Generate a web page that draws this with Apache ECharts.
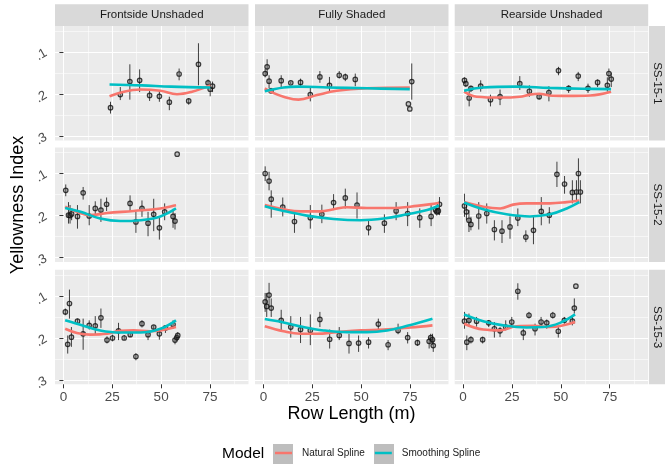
<!DOCTYPE html>
<html>
<head>
<meta charset="utf-8">
<script src="https://cdn.jsdelivr.net/npm/echarts@6/dist/echarts.min.js"></script>
<style>
  html, body { margin: 0; padding: 0; background: #fff; }
  #chart { width: 665px; height: 467px; }
</style>
</head>
<body>
<div id="chart"></div>
<script>
// facet labels
const columns = ['Frontside Unshaded', 'Fully Shaded', 'Rearside Unshaded'];
const rows = ['SS-15-1', 'SS-15-2', 'SS-15-3'];
const xTicks = [0, 25, 50, 75];
const xMinor = [12.5, 37.5, 62.5, 87.5];
const yTicks = [0.1, 0.2, 0.3];
const yMinor = [0.05, 0.15, 0.25];

// points: [row length, yellowness, lower, upper]  (null = no error bar)
const front1Pts = [
  [24.1, 0.232, 0.218, 0.246], [29.1, 0.201, 0.183, 0.214], [34.0, 0.170, 0.129, 0.213],
  [39.0, 0.167, 0.141, 0.195], [44.1, 0.203, 0.190, 0.216], [49.1, 0.205, 0.192, 0.218],
  [54.2, 0.219, 0.206, 0.238], [59.2, 0.152, 0.139, 0.167], [64.1, 0.216, 0.210, 0.225],
  [69.1, 0.129, 0.079, 0.179], [74.0, 0.173, 0.165, 0.180], [75.1, 0.188, 0.180, 0.205],
  [76.3, 0.181, 0.170, 0.195]
];
const front1NS = [[23.6, 0.205], [31, 0.194], [39.3, 0.189], [49.7, 0.192], [58.1, 0.200], [65.8, 0.194], [75.2, 0.179]];
const front1SS = [[23.6, 0.177], [40, 0.179], [55, 0.182], [75.2, 0.184]];

const shade1Pts = [
  [0.9, 0.151, 0.140, 0.160], [1.9, 0.135, 0.117, 0.155], [2.9, 0.169, 0.155, 0.186],
  [3.9, 0.192, 0.185, 0.197], [9.1, 0.168, 0.155, 0.183], [14.0, 0.173, 0.170, 0.176],
  [19.0, 0.172, 0.163, 0.181], [24.0, 0.201, 0.184, 0.217], [28.9, 0.159, 0.145, 0.173],
  [33.8, 0.179, 0.159, 0.194], [38.8, 0.155, 0.145, 0.163], [41.9, 0.159, 0.151, 0.169],
  [47.0, 0.165, 0.151, 0.181], [75.9, 0.170, 0.127, 0.213],
  [74.2, 0.223, null, null], [74.9, 0.235, null, null]
];
const shade1NS = [[0.7, 0.186], [5, 0.197], [10.3, 0.206], [17.9, 0.213], [27.4, 0.202], [37.6, 0.192], [53, 0.186], [74.9, 0.184]];
const shade1SS = [[0.7, 0.193], [10.3, 0.184], [18, 0.182], [33, 0.184], [53, 0.186], [74.9, 0.188]];

const rear1Pts = [
  [0.7, 0.167, 0.160, 0.175], [1.4, 0.175, 0.168, 0.183], [3.1, 0.209, 0.186, 0.229],
  [4.0, 0.186, 0.180, 0.195], [9.0, 0.181, 0.167, 0.194], [14.0, 0.213, 0.201, 0.229],
  [18.9, 0.206, 0.189, 0.226], [29.0, 0.175, 0.157, 0.190], [33.9, 0.193, 0.179, 0.206],
  [38.9, 0.206, 0.198, 0.213], [43.9, 0.196, 0.181, 0.217], [48.8, 0.144, 0.135, 0.155],
  [54.0, 0.186, 0.179, 0.197], [58.9, 0.157, 0.147, 0.169], [63.9, 0.186, 0.175, 0.197],
  [68.8, 0.172, 0.165, 0.183], [73.8, 0.179, 0.160, 0.194], [74.6, 0.151, 0.139, 0.167],
  [75.8, 0.164, 0.149, 0.183]
];
const rear1NS = [[0.5, 0.194], [7, 0.206], [19, 0.208], [29, 0.206], [34, 0.201], [39, 0.199], [44, 0.203], [53, 0.204], [65, 0.203], [75.7, 0.194]];
const rear1SS = [[0.5, 0.192], [10, 0.184], [27, 0.182], [44, 0.185], [61, 0.187], [75.7, 0.188]];

const front2Pts = [
  [1.2, 0.140, 0.126, 0.154], [2.6, 0.199, 0.168, 0.219], [3.4, 0.200, 0.175, 0.219],
  [4.2, 0.196, 0.182, 0.211], [7.2, 0.202, 0.175, 0.231], [10.1, 0.146, 0.132, 0.162],
  [13.2, 0.201, 0.175, 0.223], [16.3, 0.183, 0.166, 0.197], [19.2, 0.187, 0.160, 0.215],
  [22.1, 0.173, 0.157, 0.189], [34.1, 0.171, 0.152, 0.191], [37.1, 0.215, 0.191, 0.241],
  [40.2, 0.183, 0.164, 0.203], [43.3, 0.218, 0.191, 0.249], [46.2, 0.197, 0.160, 0.237],
  [49.1, 0.229, 0.203, 0.257], [51.8, 0.191, 0.171, 0.211], [56.1, 0.202, 0.184, 0.229],
  [57.1, 0.213, 0.194, 0.233], [58.2, 0.054, null, null]
];
const front2NS = [[0.9, 0.179], [6.9, 0.191], [13.7, 0.199], [22.3, 0.194], [35.9, 0.189], [49.6, 0.183], [57.6, 0.175]];
const front2SS = [[0.9, 0.182], [8.8, 0.191], [18.8, 0.207], [29.1, 0.213], [39.4, 0.211], [49.6, 0.202], [57.6, 0.183]];

const shade2Pts = [
  [0.9, 0.100, 0.083, 0.118], [2.9, 0.118, 0.096, 0.140], [4.0, 0.161, 0.140, 0.205],
  [9.9, 0.180, 0.157, 0.202], [15.9, 0.214, 0.189, 0.241], [24.0, 0.205, 0.175, 0.231],
  [29.9, 0.197, 0.174, 0.218], [35.9, 0.169, 0.149, 0.187], [41.9, 0.158, 0.136, 0.183],
  [47.9, 0.175, 0.145, 0.207], [53.8, 0.229, 0.211, 0.247], [61.9, 0.218, 0.197, 0.241],
  [67.9, 0.189, 0.168, 0.211], [73.8, 0.195, 0.168, 0.225], [80.0, 0.205, 0.183, 0.229],
  [85.8, 0.202, 0.175, 0.225], [88.1, 0.187, 0.178, 0.196], [88.7, 0.191, 0.182, 0.200],
  [89.5, 0.189, 0.180, 0.198], [90.1, 0.173, 0.156, 0.199]
];
const shade2NS = [[0.7, 0.175], [10.3, 0.185], [18.8, 0.190], [29.1, 0.190], [35.9, 0.185], [42.7, 0.180], [53, 0.182], [65, 0.182], [78.6, 0.177], [89.8, 0.170]];
const shade2SS = [[0.7, 0.178], [10.3, 0.189], [22.2, 0.200], [35.9, 0.208], [49.6, 0.211], [61.6, 0.207], [73.6, 0.197], [83.8, 0.187], [89.8, 0.176]];

const rear2Pts = [
  [0.7, 0.177, 0.148, 0.203], [1.7, 0.191, 0.171, 0.211], [3.0, 0.211, 0.187, 0.239],
  [4.0, 0.221, 0.203, 0.235], [8.0, 0.201, 0.168, 0.233], [12.1, 0.195, 0.171, 0.219],
  [16.0, 0.233, 0.211, 0.259], [19.9, 0.237, 0.211, 0.265], [24.0, 0.227, 0.202, 0.255],
  [28.0, 0.206, 0.183, 0.225], [32.1, 0.251, 0.235, 0.263], [36.0, 0.235, 0.203, 0.268],
  [40.0, 0.190, 0.156, 0.223], [44.1, 0.199, 0.180, 0.219], [48.0, 0.102, 0.072, 0.132],
  [51.9, 0.125, 0.106, 0.148], [55.9, 0.145, 0.116, 0.171], [58.0, 0.144, 0.116, 0.168],
  [59.0, 0.100, 0.064, 0.140], [60.0, 0.144, 0.116, 0.171]
];
const rear2NS = [[0.5, 0.168], [10.3, 0.179], [19, 0.183], [25.6, 0.174], [32.5, 0.171], [44.5, 0.171], [53, 0.168], [59.5, 0.164]];
const rear2SS = [[0.5, 0.169], [10.3, 0.185], [22.2, 0.197], [34.2, 0.202], [44.5, 0.197], [53, 0.183], [59.5, 0.168]];

const front3Pts = [
  [1.0, 0.138, 0.130, 0.146], [2.2, 0.215, 0.194, 0.237], [3.1, 0.118, 0.085, 0.154],
  [4.1, 0.198, 0.174, 0.221], [7.2, 0.160, 0.154, 0.166], [10.1, 0.190, 0.154, 0.228],
  [13.2, 0.170, 0.158, 0.180], [16.3, 0.171, 0.148, 0.191], [19.2, 0.152, 0.130, 0.176],
  [22.3, 0.205, 0.196, 0.213], [25.1, 0.200, 0.192, 0.208], [28.2, 0.183, 0.164, 0.205],
  [31.1, 0.200, 0.193, 0.205], [34.2, 0.192, 0.186, 0.198], [37.1, 0.244, 0.236, 0.253],
  [40.2, 0.166, 0.158, 0.175], [43.3, 0.192, 0.182, 0.205], [46.2, 0.174, 0.170, 0.182],
  [49.1, 0.190, 0.182, 0.204], [52.2, 0.176, 0.170, 0.188], [56.1, 0.168, 0.158, 0.178],
  [57.1, 0.205, 0.198, 0.215], [58.0, 0.199, 0.192, 0.207], [58.5, 0.194, 0.186, 0.205]
];
const front3NS = [[0.9, 0.178], [6.9, 0.188], [13.7, 0.192], [22.3, 0.190], [29.1, 0.183], [35.9, 0.182], [44.4, 0.184], [57.6, 0.174]];
const front3SS = [[0.9, 0.158], [10.2, 0.171], [18.8, 0.182], [29.1, 0.187], [39.4, 0.187], [49.6, 0.178], [57.6, 0.158]];

const shade3Pts = [
  [0.9, 0.114, 0.093, 0.138], [1.7, 0.125, 0.093, 0.150], [2.9, 0.098, 0.069, 0.126],
  [4.0, 0.129, 0.106, 0.150], [9.1, 0.158, 0.133, 0.182], [14.0, 0.174, 0.148, 0.199],
  [19.0, 0.180, 0.150, 0.212], [24.0, 0.182, 0.144, 0.217], [28.9, 0.156, 0.138, 0.174],
  [33.9, 0.203, 0.180, 0.225], [38.8, 0.194, 0.174, 0.205], [43.8, 0.213, 0.190, 0.237],
  [48.7, 0.212, 0.194, 0.233], [53.8, 0.210, 0.198, 0.225], [58.8, 0.167, 0.154, 0.180],
  [63.8, 0.216, 0.205, 0.229], [68.9, 0.182, 0.166, 0.191], [73.8, 0.199, 0.186, 0.213],
  [78.8, 0.211, 0.204, 0.219], [84.8, 0.208, 0.198, 0.225], [85.6, 0.199, 0.190, 0.208],
  [86.5, 0.204, 0.190, 0.216], [86.9, 0.218, 0.202, 0.233]
];
const shade3NS = [[0.7, 0.172], [10.3, 0.184], [18.9, 0.190], [27.4, 0.190], [37.7, 0.186], [49.6, 0.182], [61.6, 0.180], [75.3, 0.175], [86.5, 0.170]];
const shade3SS = [[0.7, 0.155], [10.3, 0.163], [20.5, 0.174], [30.8, 0.182], [42.7, 0.186], [53, 0.186], [63.3, 0.182], [73.6, 0.171], [86.5, 0.154]];

const rear3Pts = [
  [0.7, 0.160, 0.138, 0.178], [1.9, 0.210, 0.194, 0.229], [3.0, 0.158, 0.142, 0.173],
  [4.0, 0.204, 0.196, 0.213], [6.9, 0.160, 0.150, 0.173], [10.0, 0.204, 0.197, 0.213],
  [13.1, 0.164, 0.158, 0.174], [16.0, 0.178, 0.162, 0.199], [18.9, 0.183, 0.174, 0.198],
  [21.8, 0.174, 0.158, 0.182], [24.9, 0.162, 0.150, 0.174], [28.0, 0.089, 0.070, 0.109],
  [30.8, 0.188, 0.178, 0.205], [33.7, 0.146, 0.138, 0.154], [36.8, 0.178, 0.166, 0.194],
  [39.9, 0.162, 0.150, 0.174], [42.8, 0.164, 0.156, 0.178], [45.9, 0.146, 0.138, 0.154],
  [48.7, 0.184, 0.174, 0.199], [51.8, 0.158, 0.150, 0.166], [55.9, 0.160, 0.150, 0.170],
  [56.9, 0.129, 0.106, 0.142], [57.7, 0.077, null, null]
];
const rear3NS = [[0.5, 0.166], [10.3, 0.180], [18.9, 0.182], [27.4, 0.172], [36, 0.171], [44.5, 0.174], [57.3, 0.162]];
const rear3SS = [[0.5, 0.144], [10.3, 0.160], [20.5, 0.170], [32.5, 0.175], [41, 0.174], [49.6, 0.164], [57.3, 0.144]];

// panel order: row by row, left to right
const panels = [
  [front1Pts, front1NS, front1SS], [shade1Pts, shade1NS, shade1SS], [rear1Pts, rear1NS, rear1SS],
  [front2Pts, front2NS, front2SS], [shade2Pts, shade2NS, shade2SS], [rear2Pts, rear2NS, rear2SS],
  [front3Pts, front3NS, front3SS], [shade3Pts, shade3NS, shade3SS], [rear3Pts, rear3NS, rear3SS]
];

const FONT = 'Liberation Sans';
const RED = '#F8766D';
const TEAL = '#00BFC4';
const colLeft = [55, 255, 454.7];
const rowTop = [26, 147.4, 269.8];
const PW = 193.5, PH = 114.5;

const chart = echarts.init(document.getElementById('chart'), null, { renderer: 'canvas' });

const grids = [], xAxes = [], yAxes = [], series = [];
const minorX = [], minorY = [];

for (let r = 0; r < 3; r++) {
  for (let c = 0; c < 3; c++) {
    const i = r * 3 + c;
    grids.push({
      left: colLeft[c], top: rowTop[r], width: PW, height: PH,
      show: true, backgroundColor: '#EBEBEB', borderWidth: 0
    });
    xAxes.push({
      type: 'value', gridIndex: i, min: -4.3, max: 94.7,
      axisLine: { show: false },
      axisTick: { show: r === 2, length: 4, lineStyle: { color: '#333', width: 1 }, customValues: xTicks },
      axisLabel: { show: r === 2, customValues: xTicks, color: '#4D4D4D', fontSize: 13.5, fontFamily: FONT, margin: 6 },
      splitLine: { show: true, lineStyle: { color: '#fff', width: 1.1 } }
    });
    yAxes.push({
      type: 'value', gridIndex: i, min: 0.038, max: 0.31, inverse: true,
      axisLine: { show: false },
      axisTick: { show: c === 0, length: 4, lineStyle: { color: '#333', width: 1 }, customValues: yTicks },
      axisLabel: {
        show: c === 0, customValues: yTicks, color: '#4D4D4D', fontSize: 13, fontFamily: FONT,
        margin: 9, rotate: 30,
        formatter: v => '.' + Math.round(v * 10)
      },
      splitLine: { show: true, lineStyle: { color: '#fff', width: 1.1 } }
    });
    // thin minor grid lines
    minorX.push({
      type: 'value', gridIndex: i, min: -4.3, max: 94.7,
      axisLine: { show: false }, axisLabel: { show: false },
      axisTick: { show: false, customValues: xMinor },
      splitLine: { show: true, lineStyle: { color: '#fff', width: 0.55 } }
    });
    minorY.push({
      type: 'value', gridIndex: i, min: 0.038, max: 0.31, inverse: true,
      axisLine: { show: false }, axisLabel: { show: false },
      axisTick: { show: false, customValues: yMinor },
      splitLine: { show: true, lineStyle: { color: '#fff', width: 0.55 } }
    });

    const [pts, ns, ss] = panels[i];
    series.push({
      type: 'custom', xAxisIndex: i, yAxisIndex: i, z: 3, silent: true,
      data: pts.filter(p => p[2] != null).map(p => [p[0], p[2], p[3]]),
      encode: { x: 0, y: [1, 2] },
      renderItem: (params, api) => {
        const a = api.coord([api.value(0), api.value(1)]);
        const b = api.coord([api.value(0), api.value(2)]);
        return {
          type: 'line',
          shape: { x1: a[0], y1: a[1], x2: b[0], y2: b[1] },
          style: { stroke: 'rgba(20,20,20,0.8)', lineWidth: 1 }
        };
      }
    });
    series.push({
      type: 'scatter', xAxisIndex: i, yAxisIndex: i, z: 4, silent: true,
      data: pts.map(p => [p[0], p[1]]),
      symbol: 'circle', symbolSize: 4.5,
      itemStyle: { color: 'rgba(90,90,90,0.35)', borderColor: '#111', borderWidth: 1.2 }
    });
    series.push({
      name: 'Natural Spline', type: 'line', xAxisIndex: i, yAxisIndex: i, z: 5,
      data: ns, smooth: 0.4, symbol: 'none', showSymbol: false, silent: true,
      color: RED, lineStyle: { color: RED, width: 2.6 }
    });
    series.push({
      name: 'Smoothing Spline', type: 'line', xAxisIndex: i, yAxisIndex: i, z: 6,
      data: ss, smooth: 0.4, symbol: 'none', showSymbol: false, silent: true,
      color: TEAL, lineStyle: { color: TEAL, width: 2.6 }
    });
  }
}

// minor axes are attached after the main ones (indices 9..17)
for (let i = 0; i < 9; i++) {
  xAxes.push(minorX[i]);
  yAxes.push(minorY[i]);
}

// strips, titles and legend key boxes
const graphics = [];
columns.forEach((name, c) => {
  graphics.push({ type: 'rect', shape: { x: colLeft[c], y: 4.3, width: PW, height: 21.7 }, style: { fill: '#D9D9D9' }, silent: true });
  graphics.push({
    type: 'text', x: colLeft[c] + PW / 2, y: 15.3, silent: true,
    style: { text: name, fill: '#1A1A1A', font: '11.5px ' + FONT, textAlign: 'center', textVerticalAlign: 'middle' }
  });
});
rows.forEach((name, r) => {
  graphics.push({ type: 'rect', shape: { x: 649, y: rowTop[r], width: 20, height: PH }, style: { fill: '#D9D9D9' }, silent: true });
  graphics.push({
    type: 'text', x: 657.5, y: rowTop[r] + PH / 2, rotation: -Math.PI / 2, silent: true,
    style: { text: name, fill: '#1A1A1A', font: '11.5px ' + FONT, textAlign: 'center', textVerticalAlign: 'middle' }
  });
});
graphics.push({
  type: 'text', x: 18, y: 205, rotation: Math.PI / 2, silent: true,
  style: { text: 'Yellowness Index', fill: '#000', font: '18px ' + FONT, textAlign: 'center', textVerticalAlign: 'middle' }
});
graphics.push({
  type: 'text', x: 351.5, y: 414, silent: true,
  style: { text: 'Row Length (m)', fill: '#000', font: '18px ' + FONT, textAlign: 'center', textVerticalAlign: 'middle' }
});
graphics.push({
  type: 'text', x: 222, y: 454, silent: true,
  style: { text: 'Model', fill: '#000', font: '15.5px ' + FONT, textAlign: 'left', textVerticalAlign: 'middle' }
});
graphics.push({ type: 'rect', shape: { x: 273, y: 444, width: 20, height: 20 }, style: { fill: '#BEBEBE' }, silent: true, z: 0 });
graphics.push({ type: 'rect', shape: { x: 374, y: 444, width: 20, height: 20 }, style: { fill: '#BEBEBE' }, silent: true, z: 0 });

chart.setOption({
  animation: false,
  textStyle: { fontFamily: FONT },
  grid: grids,
  xAxis: xAxes,
  yAxis: yAxes,
  series: series,
  graphic: graphics,
  legend: {
    data: ['Natural Spline', 'Smoothing Spline'],
    left: 275, top: 448, padding: 0, z: 10,
    icon: 'rect', itemWidth: 17, itemHeight: 2.5, itemGap: 10,
    selectedMode: false,
    textStyle: { fontSize: 10, color: '#1A1A1A', fontFamily: FONT, padding: [0, 0, 0, 5] }
  }
});
</script>
</body>
</html>
